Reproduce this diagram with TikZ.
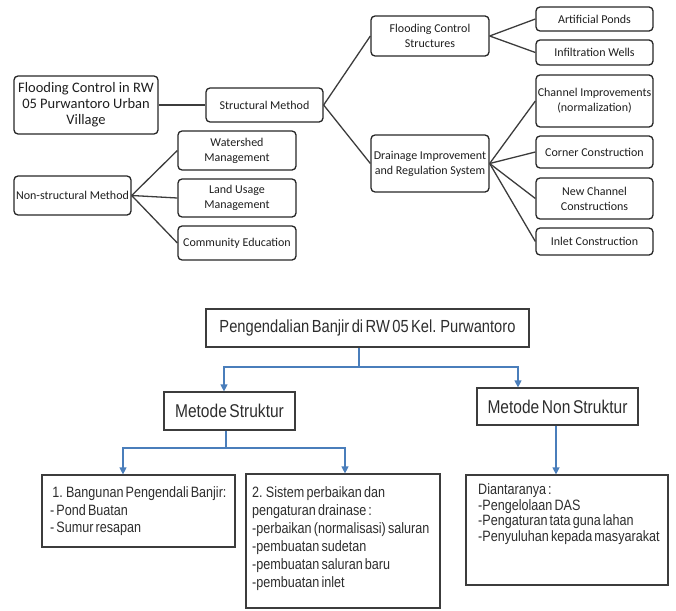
\documentclass[tikz,border=0pt]{standalone}
\usepackage{fontspec}
\usetikzlibrary{arrows.meta}
\newfontfamily\calib{Carlito}
\newfontfamily\arialn[FakeStretch=0.84,WordSpace=0.6]{Liberation Sans}
\definecolor{bluel}{RGB}{74,126,187}
\definecolor{boxc}{RGB}{38,38,38}
\definecolor{txtc}{RGB}{30,30,30}
\definecolor{btxt}{RGB}{45,45,45}
\tikzset{
  rbox/.style={draw=boxc, line width=1.3pt, rounded corners=4pt, inner sep=1pt, align=center, text=txtc, font=\calib\fontsize{12}{15}\selectfont},
  sbox/.style={draw=boxc!90, line width=1.2pt, inner sep=0pt, align=center, text=btxt, font=\arialn\fontsize{18.5}{20}\selectfont},
  ptxt/.style={anchor=north west, inner sep=0pt, align=left, text=btxt},
  tline/.style={draw=boxc!90, line width=1.3pt},
  bl/.style={draw=bluel, line width=1.2pt},
  bla/.style={bl, -{Triangle[width=7pt,length=7pt]}}
}
\begin{document}
\begin{tikzpicture}[x=1pt,y=-1pt]
\useasboundingbox (0,0) rectangle (676,610);
% ---------- top diagram ----------
\node[rbox, minimum width=144pt, minimum height=58pt, font=\calib\fontsize{14.5}{16}\selectfont] (root) at (86,105) {Flooding Control in RW\\05 Purwantoro Urban\\Village};
\node[rbox, minimum width=117pt, minimum height=34pt] (sm) at (264.5,105) {Structural Method};
\node[rbox, minimum width=118pt, minimum height=40pt] (fcs) at (430,36) {Flooding Control\\Structures};
\node[rbox, minimum width=118pt, minimum height=57pt] (dir) at (430,163.5) {Drainage Improvement\\and Regulation System};
\node[rbox, minimum width=117pt, minimum height=24pt] (ap) at (594.5,19) {Artificial Ponds};
\node[rbox, minimum width=117pt, minimum height=25pt] (iw) at (594.5,52.5) {Infiltration Wells};
\node[rbox, minimum width=117pt, minimum height=52pt] (ci) at (594.5,101) {Channel Improvements\\(normalization)};
\node[rbox, minimum width=117pt, minimum height=32pt] (cc) at (594.5,152) {Corner Construction};
\node[rbox, minimum width=117pt, minimum height=41pt] (nc) at (594.5,198.5) {New Channel\\Constructions};
\node[rbox, minimum width=117pt, minimum height=27pt] (ic) at (594.5,241.5) {Inlet Construction};
\node[rbox, minimum width=117pt, minimum height=39pt] (nsm) at (72.5,195.5) {Non-structural Method};
\node[rbox, minimum width=118pt, minimum height=39pt] (wm) at (237,150.5) {Watershed\\Management};
\node[rbox, minimum width=118pt, minimum height=38pt] (lu) at (237,198) {Land Usage\\Management};
\node[rbox, minimum width=118pt, minimum height=34pt] (ce) at (237,243) {Community Education};
\draw[tline] (root.east) -- (sm.west);
\draw[tline] (sm.east) -- (fcs.west);
\draw[tline] (sm.east) -- (dir.west);
\draw[tline] (fcs.east) -- (ap.west);
\draw[tline] (fcs.east) -- (iw.west);
\draw[tline] (dir.east) -- (ci.west);
\draw[tline] (dir.east) -- (cc.west);
\draw[tline] (dir.east) -- (nc.west);
\draw[tline] (dir.east) -- (ic.west);
\draw[tline] (nsm.east) -- (wm.west);
\draw[tline] (nsm.east) -- (lu.west);
\draw[tline] (nsm.east) -- (ce.west);
% ---------- bottom diagram ----------
\node[sbox, minimum width=323pt, minimum height=38pt, font=\arialn\fontsize{17.5}{20}\selectfont] (title) at (367.5,328) {Pengendalian Banjir di RW 05 Kel. Purwantoro};
\node[sbox, minimum width=131pt, minimum height=38pt] (ms) at (229.5,411) {Metode Struktur};
\node[sbox, minimum width=161pt, minimum height=37pt] (mns) at (557.5,406.5) {Metode Non Struktur};
\node[sbox, minimum width=193pt, minimum height=72pt] (b1) at (138.5,511) {};
\node[sbox, minimum width=194pt, minimum height=134pt] (b2) at (343,541) {};
\node[sbox, minimum width=202pt, minimum height=110pt] (b3) at (567,530) {};
\node[ptxt, font=\arialn\fontsize{15}{17.5}\selectfont] (t1) at (50,486.5) {\ 1. Bangunan Pengendali Banjir:\\- Pond Buatan\\- Sumur resapan};
\node[ptxt, font=\arialn\fontsize{15}{18}\selectfont] (t2) at (252,486.5) {2. Sistem perbaikan dan\\pengaturan drainase :\\-perbaikan (normalisasi) saluran\\-pembuatan sudetan\\-pembuatan saluran baru\\-pembuatan inlet};
\node[ptxt, font=\arialn\fontsize{15}{15.6}\selectfont] (t3) at (478,483.5) {Diantaranya :\\-Pengelolaan DAS\\-Pengaturan tata guna lahan\\-Penyuluhan kepada masyarakat};
\coordinate (j1) at (359,367);
\coordinate (j2) at (226,448);
\draw[bl] ([xshift=-8.5pt]title.south) -- (j1);
\draw[bla] (j1) -| ([xshift=-5.5pt]ms.north);
\draw[bla] (j1) -| ([xshift=-39.5pt]mns.north);
\draw[bl] ([xshift=-3.5pt]ms.south) -- (j2);
\draw[bla] (j2) -| ([xshift=-15.5pt]b1.north);
\draw[bla] (j2) -| ([xshift=2pt]b2.north);
\draw[bla] ([xshift=-1.5pt]mns.south) -- ([xshift=-1.5pt]mns.south |- b3.north);
\end{tikzpicture}
\end{document}
